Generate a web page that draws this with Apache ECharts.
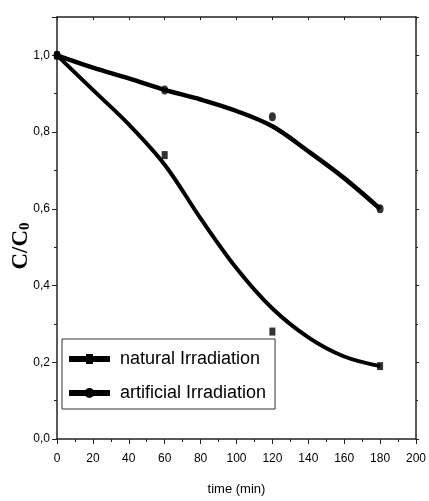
<!DOCTYPE html>
<html>
<head>
<meta charset="utf-8">
<script src="https://cdn.jsdelivr.net/npm/echarts@6/dist/echarts.min.js"></script>
<style>
    html, body { margin: 0; padding: 0; background: #fff; }
    #chart { width: 429px; height: 501px; }
</style>
</head>
<body>
<div id="chart"></div>
<script>
    // fitted curves, every 20 min
    var fitTime = [0, 20, 40, 60, 80, 100, 120, 140, 160, 180];
    var naturalFit = [1.0, 0.91, 0.82, 0.715, 0.575, 0.445, 0.34, 0.265, 0.215, 0.19];
    var artificialFit = [1.0, 0.968, 0.94, 0.91, 0.885, 0.855, 0.815, 0.75, 0.68, 0.60];

    // measured points
    var pointTime = [0, 60, 120, 180];
    var naturalPts = [1.0, 0.74, 0.28, 0.19];
    var artificialPts = [1.0, 0.91, 0.84, 0.60];

    var legendNames = ['natural Irradiation', 'artificial Irradiation'];

    function pairs(xs, ys) {
        return xs.map(function (x, i) { return [x, ys[i]]; });
    }

    var font = '"Liberation Sans Narrow", "Liberation Sans", Arial, sans-serif';
    var serif = '"Liberation Serif", "Times New Roman", serif';
    var axisColor = '#222';

    // legend icons: thick line with the marker in the middle
    var iconSquare = 'path://M0,2H41V8H0Z M17,0H24V10H17Z';
    var iconCircle = 'path://M0,2H41V8H0Z M15.5,5A5,5 0 1,1 25.5,5A5,5 0 1,1 15.5,5Z';

    var chart = echarts.init(document.getElementById('chart'));
    chart.setOption({
        animation: false,
        backgroundColor: '#fff',
        grid: { left: 57, right: 10, top: 17, bottom: 61 },
        legend: {
            data: [
                { name: legendNames[0], icon: iconSquare },
                { name: legendNames[1], icon: iconCircle }
            ],
            orient: 'vertical',
            left: 62,
            top: 339,
            padding: [9, 9, 5, 7],
            itemGap: 12,
            itemWidth: 41,
            itemHeight: 10,
            borderColor: '#333',
            borderWidth: 1,
            itemStyle: { color: '#000' },
            textStyle: { fontFamily: font, fontSize: 18, lineHeight: 22, color: '#000', padding: [0, 0, 0, 5] }
        },
        graphic: [{
            type: 'text',
            x: 21,
            y: 246,
            rotation: Math.PI / 2,
            style: {
                text: '{a|C/C}{b|0}',
                align: 'center',
                verticalAlign: 'middle',
                rich: {
                    a: { fontFamily: serif, fontWeight: 'bold', fontSize: 23, fill: '#000' },
                    b: { fontFamily: serif, fontWeight: 'bold', fontSize: 15, fill: '#000', padding: [9, 0, 0, 0] }
                }
            }
        }],
        xAxis: [{
            type: 'value',
            min: 0, max: 200, interval: 20,
            name: 'time (min)',
            nameLocation: 'middle',
            nameGap: 44,
            nameTextStyle: { fontFamily: font, fontSize: 13, color: '#000' },
            axisLine: { onZero: false, lineStyle: { color: axisColor, width: 1.5 } },
            axisTick: { length: 5, lineStyle: { color: axisColor } },
            minorTick: { show: true, splitNumber: 2, length: 3, lineStyle: { color: axisColor } },
            axisLabel: { fontFamily: font, fontSize: 12, color: '#000', margin: 14 },
            splitLine: { show: false }
        }, {
            type: 'value', position: 'top',
            min: 0, max: 200, interval: 20,
            axisLine: { onZero: false, lineStyle: { color: axisColor, width: 1.5 } },
            axisTick: { inside: true, length: 3, lineStyle: { color: axisColor } },
            axisLabel: { show: false },
            splitLine: { show: false }
        }],
        yAxis: [{
            type: 'value',
            min: 0, max: 1.1, interval: 0.2,
            axisLine: { show: true, onZero: false, lineStyle: { color: axisColor, width: 1.5 } },
            axisTick: { show: true, length: 5, lineStyle: { color: axisColor } },
            minorTick: { show: true, splitNumber: 2, length: 3, lineStyle: { color: axisColor } },
            axisLabel: {
                fontFamily: font, fontSize: 12, color: '#000', margin: 7,
                showMaxLabel: false,
                formatter: function (v) { return v.toFixed(1).replace('.', ','); }
            },
            splitLine: { show: false }
        }, {
            type: 'value', position: 'right',
            min: 0, max: 1.1, interval: 0.2,
            axisLine: { show: true, onZero: false, lineStyle: { color: axisColor, width: 1.5 } },
            axisTick: { show: true, length: 3, lineStyle: { color: axisColor } },
            minorTick: { show: true, splitNumber: 2, length: 2, lineStyle: { color: axisColor } },
            axisLabel: { show: false },
            splitLine: { show: false }
        }],
        series: [
            {
                name: legendNames[0],
                type: 'line',
                smooth: 0.35,
                showSymbol: false,
                data: pairs(fitTime, naturalFit),
                lineStyle: { color: '#000', width: 4 },
                itemStyle: { color: '#000' }
            },
            {
                name: legendNames[1],
                type: 'line',
                smooth: 0.35,
                showSymbol: false,
                data: pairs(fitTime, artificialFit),
                lineStyle: { color: '#000', width: 4.5 },
                itemStyle: { color: '#000' }
            },
            {
                name: 'natural points',
                type: 'scatter',
                symbol: 'rect',
                symbolSize: [6, 8],
                data: pairs(pointTime, naturalPts),
                itemStyle: { color: '#000' }
            },
            {
                name: 'artificial points',
                type: 'scatter',
                symbol: 'circle',
                symbolSize: [7, 9],
                data: pairs(pointTime, artificialPts),
                itemStyle: { color: '#000' }
            }
        ]
    });
</script>
</body>
</html>
